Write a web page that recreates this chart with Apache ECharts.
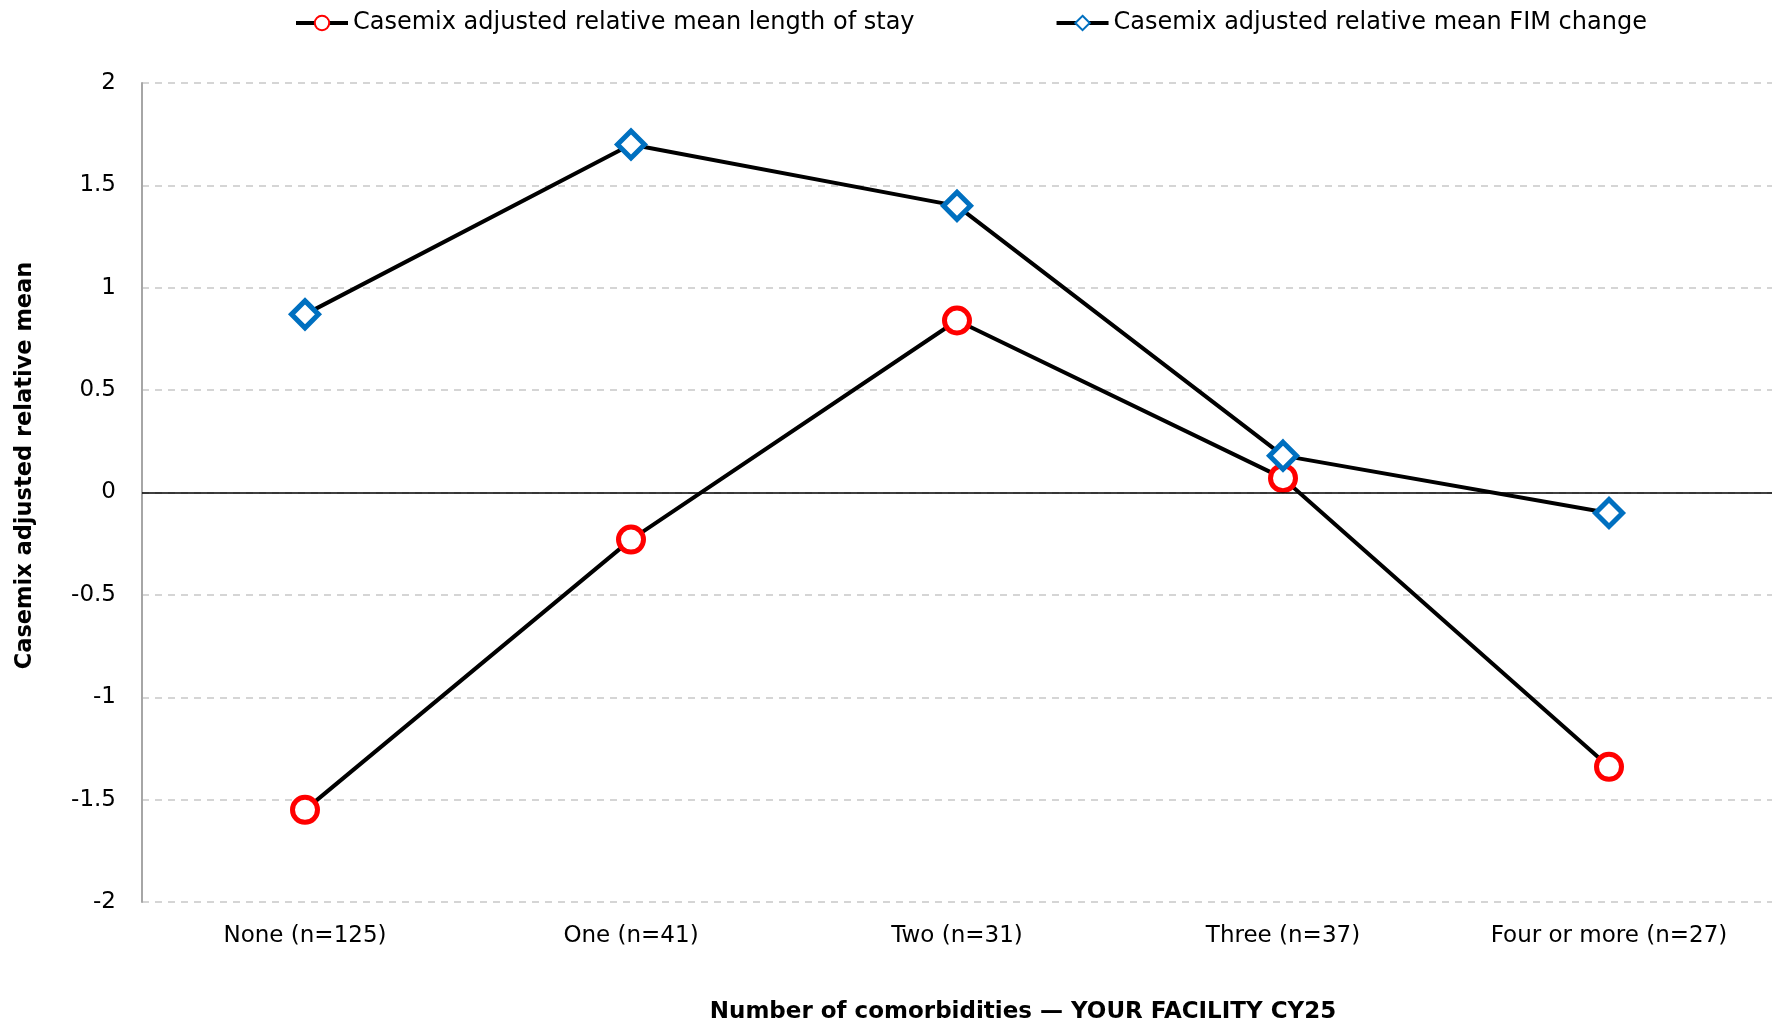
<!DOCTYPE html>
<html><head><meta charset="utf-8">
<script src="https://cdn.jsdelivr.net/npm/echarts@6/dist/echarts.min.js"></script>
<style>html,body{margin:0;padding:0;background:#fff}#c{width:1779px;height:1026px}</style>
</head><body><div id="c"></div>
<script>
const categories = ['None (n=125)', 'One (n=41)', 'Two (n=31)', 'Three (n=37)', 'Four or more (n=27)'];
const losValues = [-1.55, -0.23, 0.84, 0.07, -1.34];
const fimValues = [0.87, 1.70, 1.40, 0.18, -0.10];
const yTicks = [-2, -1.5, -1, -0.5, 0, 0.5, 1, 1.5, 2];
const seriesNames = ['Casemix adjusted relative mean length of stay', 'Casemix adjusted relative mean FIM change'];
const yTitle = 'Casemix adjusted relative mean';
const xTitle = 'Number of comorbidities \u2014 YOUR FACILITY CY25';

const FONT = 'DejaVu Sans';
const chart = echarts.init(document.getElementById('c'), null, {renderer: 'canvas'});
chart.setOption({
  backgroundColor: '#fff',
  animation: false,
  textStyle: {fontFamily: FONT},
  legend: {
    top: 6, left: 289, itemGap: 140, itemWidth: 52, itemHeight: 18,
    lineStyle: {width: 4, color: '#000'},
    textStyle: {fontFamily: FONT, fontSize: 24, color: '#000'},
    data: seriesNames
  },
  grid: {left: 142, right: 7, top: 83, bottom: 124},
  xAxis: {
    type: 'category', data: categories, boundaryGap: true,
    axisLine: {show: false}, axisTick: {show: false},
    axisLabel: {fontFamily: FONT, fontSize: 23, color: '#000', margin: 23}
  },
  yAxis: {
    type: 'value', min: yTicks[0], max: yTicks[yTicks.length - 1], interval: 0.5,
    axisLine: {show: true, lineStyle: {color: '#a6a6a6', width: 2}},
    axisTick: {show: false},
    axisLabel: {fontFamily: FONT, fontSize: 23, color: '#000', margin: 26,
      formatter: v => String(v)},
    splitLine: {show: true, lineStyle: {color: '#c8c8c8', type: [7, 6], width: 1.5}}
  },
  series: [
    {
      name: seriesNames[0], type: 'line', data: losValues,
      symbol: 'circle', symbolSize: 25,
      lineStyle: {color: '#000', width: 4},
      itemStyle: {color: '#fff', borderColor: '#ff0000', borderWidth: 5},
      z: 3,
      markLine: {
        silent: true, symbol: 'none', label: {show: false},
        lineStyle: {color: '#000', type: 'solid', width: 1.5},
        data: [{yAxis: 0}]
      }
    },
    {
      name: seriesNames[1], type: 'line', data: fimValues,
      symbol: 'diamond', symbolSize: [27, 27],
      lineStyle: {color: '#000', width: 4},
      itemStyle: {color: '#fff', borderColor: '#0070c0', borderWidth: 5},
      z: 4
    }
  ]
});
const ySpanTop = chart.convertToPixel({yAxisIndex: 0}, 2);
const ySpanBot = chart.convertToPixel({yAxisIndex: 0}, -2);
chart.setOption({graphic: [
  {type: 'text', x: 25, y: (ySpanTop + ySpanBot) / 2 - 27, rotation: Math.PI / 2,
   style: {text: yTitle, fontFamily: FONT, fontSize: 22.5, fontWeight: 'bold', fill: '#000',
     align: 'center', verticalAlign: 'middle'}},
  {type: 'text', x: 1023, y: 1012,
   style: {text: xTitle, fontFamily: FONT, fontSize: 23, fontWeight: 'bold', fill: '#000',
     align: 'center', verticalAlign: 'middle'}}
]});
</script></body></html>
